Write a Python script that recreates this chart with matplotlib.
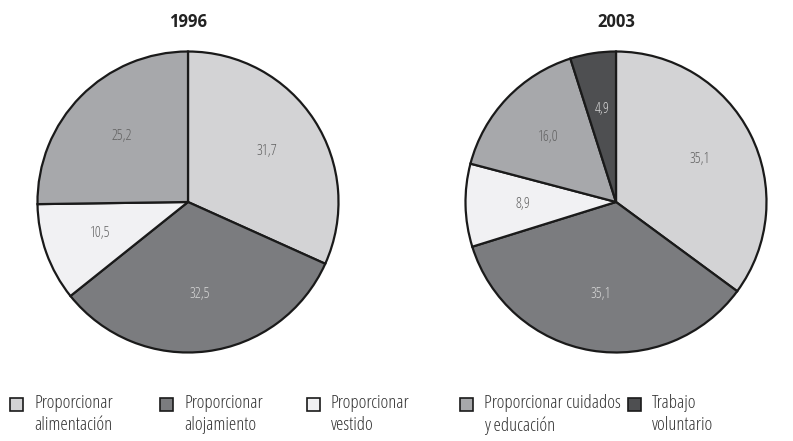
import matplotlib.pyplot as plt
from matplotlib.patches import Rectangle

# data
years = ['1996', '2003']
values_1996 = [31.7, 32.5, 10.5, 25.2]
values_2003 = [35.1, 35.1, 8.9, 16.0, 4.9]
categories = ['Proporcionar\nalimentación', 'Proporcionar\nalojamiento', 'Proporcionar\nvestido',
              'Proporcionar cuidados\ny educación', 'Trabajo\nvoluntario']

colors = ['#d3d3d5', '#7b7c7f', '#f1f1f3', '#a7a8ab', '#4e4f51']
text_colors = ['#606060', '#d8d8d8', '#606060', '#606060', '#d8d8d8']

narrow = dict(family='Open Sans', stretch='condensed', weight='light')

fig = plt.figure(figsize=(7.93, 4.41), dpi=100)
W, H = 793, 441


def draw_pie(cx, cy, r, vals, title):
    ax = fig.add_axes([(cx - r) / W, 1 - (cy + r) / H, 2 * r / W, 2 * r / H])
    wedges, texts = ax.pie(vals, colors=colors[:len(vals)], startangle=90, counterclock=False,
                           labels=[f'{v:.1f}'.replace('.', ',') for v in vals], labeldistance=0.62,
                           wedgeprops=dict(edgecolor='#1a1a1a', linewidth=1.6))
    for t, c in zip(texts, text_colors):
        t.set_color(c)
        t.set_ha('center')
        t.set_va('center')
        t.set_fontsize(10.5)
        t.set_family(narrow['family'])
        t.set_stretch(narrow['stretch'])
        t.set_weight(narrow['weight'])
    ax.set_aspect('auto')
    ax.set_xlim(-1.01, 1.01)
    ax.set_ylim(-1.01, 1.01)
    fig.text(cx / W, 1 - 22 / H, title, ha='center', va='center', fontsize=12,
             fontweight='bold', fontstretch='normal', color='#222222', family='Open Sans')


draw_pie(188, 202, 152, values_1996, years[0])
draw_pie(616, 202, 152, values_2003, years[1])

# legend
sq_x = [10, 160, 307, 460, 628]
for x, lab, col in zip(sq_x, categories, colors):
    fig.patches.append(Rectangle((x / W, 1 - 411 / H), 13 / W, 13 / H, transform=fig.transFigure,
                                 facecolor=col, edgecolor='#1a1a1a', linewidth=1.2))
    fig.text((x + 24) / W, 1 - 394 / H, lab, ha='left', va='top', fontsize=13.5,
             color='#333333', linespacing=1.3, **narrow)

fig.savefig('out.png', dpi=100, facecolor='white')
